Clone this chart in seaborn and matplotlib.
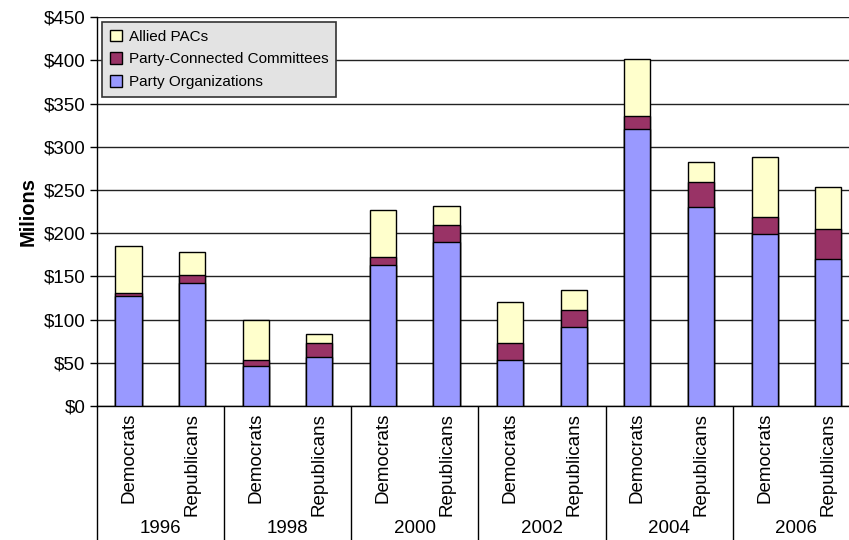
import pandas as pd
import numpy as np
import seaborn as sns
import matplotlib.pyplot as plt
from matplotlib.patches import Patch
from matplotlib.ticker import FuncFormatter

years = ["1996", "1998", "2000", "2002", "2004", "2006"]
parties = ["Democrats", "Republicans"]
# values in $ millions, order: D96, R96, D98, R98, ...
party_orgs = [127, 142, 46, 57, 163, 190, 53, 92, 321, 230, 199, 170]
party_connected = [4, 10, 7, 16, 10, 20, 20, 19, 14, 29, 20, 35]
allied_pacs = [54, 26, 46, 10, 54, 22, 47, 23, 67, 23, 69, 48]

labels = [f"{y} {p}" for y in years for p in parties]
df = pd.DataFrame({
    "group": labels,
    "po": party_orgs,
    "pcc": np.array(party_orgs) + np.array(party_connected),
    "total": np.array(party_orgs) + np.array(party_connected) + np.array(allied_pacs),
})

c_po, c_pcc, c_pac = "#9999FF", "#993366", "#FFFFCC"

sns.set_style("white")
plt.rcParams["font.family"] = ["Liberation Sans", "DejaVu Sans"]
plt.rcParams["text.color"] = "black"
plt.rcParams["axes.labelcolor"] = "black"
plt.rcParams["xtick.color"] = "black"
plt.rcParams["ytick.color"] = "black"

fig = plt.figure(figsize=(8.49, 5.40), dpi=100)
ax = fig.add_axes([0.1139, 0.248, 0.899, 0.7204])

kw = dict(data=df, x="group", width=0.41, edgecolor="black", linewidth=1, ax=ax, zorder=3)
sns.barplot(y="total", color=c_pac, saturation=1, **kw)
sns.barplot(y="pcc", color=c_pcc, saturation=1, **kw)
sns.barplot(y="po", color=c_po, saturation=1, **kw)

ax.set_xlim(-0.5, 11.5)
ax.set_ylim(0, 450)
ax.set_yticks(range(0, 451, 50))
ax.yaxis.set_major_formatter(FuncFormatter(lambda v, _: f"${v:.0f}"))
ax.grid(axis="y", color="#222222", linewidth=1, zorder=0)
ax.set_axisbelow(True)

for s in ["top", "right"]:
    ax.spines[s].set_visible(False)
for s in ["left", "bottom"]:
    ax.spines[s].set_color("black")
    ax.spines[s].set_linewidth(1)

ax.tick_params(axis="y", left=True, length=5, width=1, color="black", labelsize=13.5, pad=3)
ax.set_xticks(range(12))
ax.set_xticklabels([p for y in years for p in parties], rotation=90, fontsize=13.5, va="top")
ax.tick_params(axis="x", length=0, pad=5)

# year separators
ax.set_xticks(np.arange(-0.5, 12, 2), minor=True)
ax.tick_params(axis="x", which="minor", length=97, width=1, color="black", bottom=True)

for i, y in enumerate(years):
    ax.text(2 * i + 0.5, -0.314, y, transform=ax.get_xaxis_transform(),
            ha="center", va="center", fontsize=13.5)

ax.set_xlabel("")
ax.set_ylabel("Milions", fontsize=14.5, fontweight="bold")
ax.yaxis.set_label_coords(-0.078, 0.5)

handles = [Patch(facecolor=c_pac, edgecolor="black", label="Allied PACs"),
           Patch(facecolor=c_pcc, edgecolor="black", label="Party-Connected Committees"),
           Patch(facecolor=c_po, edgecolor="black", label="Party Organizations")]
leg = ax.legend(handles=handles, loc="upper left", bbox_to_anchor=(0.007, 0.987),
                borderaxespad=0, fontsize=11, frameon=True, fancybox=False,
                handlelength=0.8, handleheight=0.8, handletextpad=0.45,
                labelspacing=0.55, borderpad=0.5)
leg.get_frame().set_facecolor("#E3E3E3")
leg.get_frame().set_edgecolor("#333333")
leg.get_frame().set_linewidth(1.2)
leg.get_frame().set_alpha(1)
leg.set_zorder(5)

fig.savefig("out.png", dpi=100)
